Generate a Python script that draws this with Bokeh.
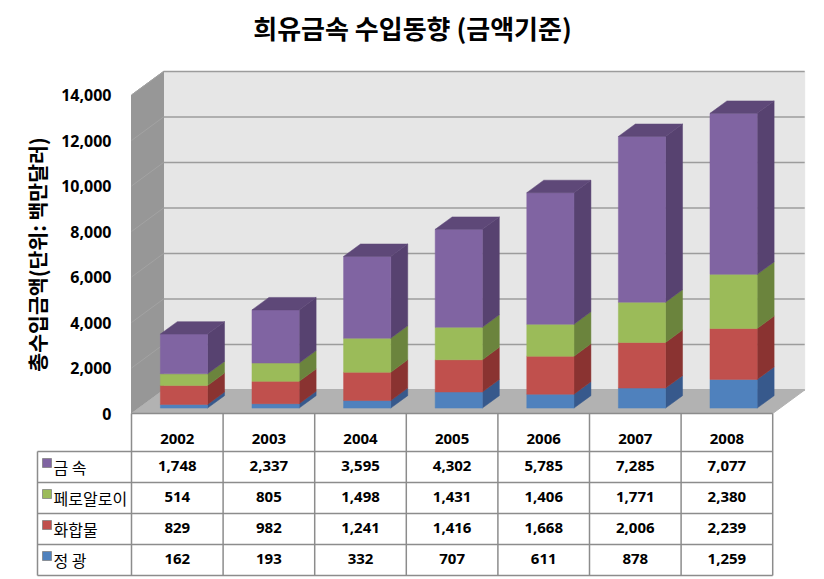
from bokeh.plotting import figure
from bokeh.embed import file_html
from bokeh.resources import INLINE
from bokeh.core.properties import value
from bokeh.models import FixedTicker, Range1d

# ---- data ----
years = ["2002", "2003", "2004", "2005", "2006", "2007", "2008"]
jeonggwang = [162, 193, 332, 707, 611, 878, 1259]
hwahapmul = [829, 982, 1241, 1416, 1668, 2006, 2239]
ferroalloy = [514, 805, 1498, 1431, 1406, 1771, 2380]
geumsok = [1748, 2337, 3595, 4302, 5785, 7285, 7077]
y_ticks = [0, 2000, 4000, 6000, 8000, 10000, 12000, 14000]

# bottom-to-top stack order
stack = [
    ("정 광", jeonggwang, "#4F81BD", "#37598C", "#3F6797"),
    ("화합물", hwahapmul, "#C0504D", "#8A3331", "#963C3A"),
    ("페로알로이", ferroalloy, "#9BBB59", "#6B843D", "#7A9646"),
    ("금 속", geumsok, "#8064A2", "#574270", "#5E4878"),
]

# ---- layout constants (page pixels) ----
W, H = 824, 579
PX0, PY0 = 131.0, 413.0      # front-left corner of the floor
CAT_PX = 91.6                # pixels per category
VAL_PX = 318.5 / 14000       # pixels per value unit
DEPTH_X, DEPTH_Y = 32.0, 23.5  # full-depth projection in pixels
FONT_KR = "Noto Sans CJK KR"
FONT_NUM = "Noto Sans"


def xd(px):
    return (px - PX0) / CAT_PX


def yd(py):
    return (PY0 - py) / VAL_PX


DX = DEPTH_X / CAT_PX
DY = DEPTH_Y / VAL_PX


def X(c, d=0.0):
    return c + d * DX


def Y(v, d=0.0):
    return v + d * DY


p = figure(width=W, height=H, output_backend="svg", toolbar_location=None,
           x_range=Range1d(xd(0), xd(W)), y_range=Range1d(yd(H), yd(0)),
           min_border=0, outline_line_color=None, background_fill_color="white",
           border_fill_color="white", tools="")
p.xgrid.visible = False
p.ygrid.visible = False

n = len(years)
top = y_ticks[-1]

# walls and floor
p.patch([X(0, 1), X(n, 1), X(n, 1), X(0, 1)], [Y(0, 1), Y(0, 1), Y(top, 1), Y(top, 1)],
        fill_color="#E6E6E6", line_color="#E6E6E6")
p.patch([X(0, 0), X(0, 1), X(0, 1), X(0, 0)], [Y(0, 0), Y(0, 1), Y(top, 1), Y(top, 0)],
        fill_color="#979797", line_color="#979797")
for v in y_ticks:
    p.line([X(0, 0), X(0, 1)], [Y(v, 0), Y(v, 1)], line_color="#A3A3A3", line_width=1)
    p.line([X(0, 1), X(n, 1)], [Y(v, 1), Y(v, 1)], line_color="#9C9C9C", line_width=1.5)
p.patch([X(0, 0), X(n, 0), X(n, 1), X(0, 1)], [Y(0, 0), Y(0, 0), Y(0, 1), Y(0, 1)],
        fill_color="#B2B2B2", line_color="#B2B2B2")

# bars
GAP, BAR_W = 0.235, 0.515
D0, D1 = 0.23, 0.76
base = [0] * n
for name, vals, front, side, topc in stack:
    for i, v in enumerate(vals):
        a, b = i + GAP, i + GAP + BAR_W
        v0, v1 = base[i], base[i] + v
        p.patch([X(b, D0), X(b, D1), X(b, D1), X(b, D0)],
                [Y(v0, D0), Y(v0, D1), Y(v1, D1), Y(v1, D0)],
                fill_color=side, line_color=side, line_width=0.5)
        p.patch([X(a, D0), X(b, D0), X(b, D0), X(a, D0)],
                [Y(v0, D0), Y(v0, D0), Y(v1, D0), Y(v1, D0)],
                fill_color=front, line_color=front, line_width=0.5)
        base[i] = v1
for i, total in enumerate(base):
    a, b = i + GAP, i + GAP + BAR_W
    p.patch([X(a, D0), X(b, D0), X(b, D1), X(a, D1)],
            [Y(total, D0), Y(total, D0), Y(total, D1), Y(total, D1)],
            fill_color=stack[-1][4], line_color=stack[-1][4], line_width=0.5)

# data table rules
LINE = "#8C8C8C"
ROWS = [451, 482, 513, 544, 575]
LEFT = 37
x0s, y0s, x1s, y1s = [], [], [], []
for r in ROWS:
    x0s.append(xd(LEFT)); x1s.append(float(n)); y0s.append(yd(r)); y1s.append(yd(r))
x0s.append(0.0); x1s.append(float(n)); y0s.append(yd(PY0)); y1s.append(yd(PY0))
for c in range(n + 1):
    x0s.append(float(c)); x1s.append(float(c)); y0s.append(yd(PY0)); y1s.append(yd(ROWS[-1]))
x0s.append(xd(LEFT)); x1s.append(xd(LEFT)); y0s.append(yd(ROWS[0])); y1s.append(yd(ROWS[-1]))
p.segment(x0s, y0s, x1s, y1s, line_color=LINE, line_width=1.5)

# data table cells
for row, (name, vals, front, side, topc) in enumerate(reversed(stack)):
    yc = (ROWS[row] + ROWS[row + 1]) / 2 - 0.5
    p.text([i + 0.5 for i in range(n)], [yd(yc - 1)] * n, text=[f"{v:,}" for v in vals],
           text_font=value(FONT_NUM), text_font_style="bold", text_font_size="15px",
           text_color="#000000", text_align="center", text_baseline="middle")
    p.text([xd(53)], [yd(yc)], text=[name], text_font=value(FONT_KR),
           text_font_size="16px", text_color="#000000", text_align="left",
           text_baseline="middle")
    p.quad(left=[xd(42)], right=[xd(51)], top=[yd(yc - 8)], bottom=[yd(yc + 1)],
           fill_color=front, line_color="#7F7F7F", line_width=0.75)

# title
p.text([xd(412)], [yd(27)], text=["희유금속 수입동향 (금액기준)"], text_font=value(FONT_KR),
       text_font_style="bold", text_font_size="26px", text_color="#000000",
       text_align="center", text_baseline="middle")

# value axis
ya = p.yaxis[0]
ya.fixed_location = 0
ya.bounds = (0, top)
ya.ticker = FixedTicker(ticks=y_ticks)
ya.major_label_overrides = {v: f"{v:,}" for v in y_ticks}
ya.axis_line_color = None
ya.major_tick_line_color = None
ya.minor_tick_line_color = None
ya.major_label_standoff = 14
ya.major_label_text_font = FONT_NUM
ya.major_label_text_font_style = "bold"
ya.major_label_text_font_size = "16px"
ya.major_label_text_color = "#000000"
ya.axis_label = "총수입금액(단위: 백만달러)"
ya.axis_label_text_font = FONT_KR
ya.axis_label_text_font_style = "bold"
ya.axis_label_text_font_size = "20.5px"
ya.axis_label_text_color = "#000000"
ya.axis_label_standoff = 6

# category axis (header row of the table)
xa = p.xaxis[0]
xa.fixed_location = 0
xa.ticker = FixedTicker(ticks=[i + 0.5 for i in range(n)])
xa.major_label_overrides = {i + 0.5: y for i, y in enumerate(years)}
xa.axis_line_color = None
xa.major_tick_line_color = None
xa.minor_tick_line_color = None
xa.major_label_standoff = 14
xa.major_label_text_font = FONT_NUM
xa.major_label_text_font_style = "bold"
xa.major_label_text_font_size = "15px"
xa.major_label_text_color = "#000000"

open("out.html", "w").write(file_html(p, INLINE))
